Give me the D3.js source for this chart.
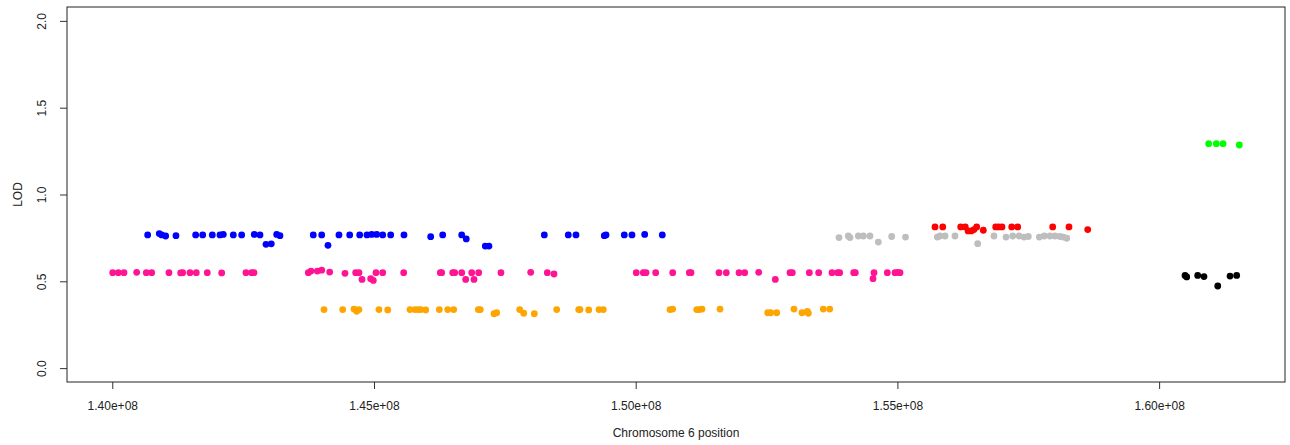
<!DOCTYPE html>
<html>
<head>
<meta charset="utf-8">
<script src="https://cdn.jsdelivr.net/npm/d3@7"></script>
<style>
  body { margin: 0; background: #fff; }
  svg { display: block; font-family: "Liberation Sans", Arial, sans-serif; }
</style>
</head>
<body>
<div id="graph"></div>
<script>
// positions in Mb on chromosome 6, LOD values
const bluePos = [140.676, 140.898, 140.944, 141.020, 141.217, 141.593, 141.727, 141.911, 142.058, 142.121,
  142.312, 142.472, 142.713, 142.822, 142.937, 143.038, 143.141, 143.204, 143.840, 144.001,
  144.121, 144.331, 144.536, 144.727, 144.866, 144.956, 145.052, 145.166, 145.319, 145.573,
  146.083, 146.313, 146.676, 146.763, 147.126, 147.197, 148.254, 148.712, 148.859, 149.400,
  149.433, 149.782, 149.929, 150.172, 150.508];
const blueLod = [0.767, 0.775, 0.767, 0.761, 0.763, 0.767, 0.767, 0.767, 0.767, 0.770,
  0.767, 0.767, 0.770, 0.767, 0.713, 0.716, 0.770, 0.763, 0.767, 0.767,
  0.707, 0.767, 0.767, 0.767, 0.767, 0.770, 0.770, 0.767, 0.767, 0.767,
  0.757, 0.767, 0.767, 0.744, 0.703, 0.703, 0.767, 0.767, 0.767, 0.763,
  0.767, 0.767, 0.767, 0.770, 0.767];

const pinkPos = [140.008, 140.115, 140.224, 140.466, 140.650, 140.753, 141.083, 141.307, 141.345, 141.485,
  141.605, 141.815, 142.090, 142.554, 142.663, 142.707, 143.745, 143.796, 143.917, 144.001,
  144.154, 144.446, 144.650, 144.713, 144.771, 144.937, 144.987, 145.038, 145.166, 145.567,
  146.267, 146.293, 146.504, 146.542, 146.676, 146.752, 146.867, 146.911, 147.000, 147.426,
  147.994, 148.311, 148.439, 150.011, 150.145, 150.197, 150.382, 150.707, 151.024, 151.057,
  151.591, 151.731, 151.974, 152.082, 152.350, 152.667, 152.948, 152.992, 153.317, 153.496,
  153.750, 153.859, 153.897, 154.165, 154.196, 154.534, 154.553, 154.807, 154.954, 155.006,
  155.050];
const pinkLod = [0.550, 0.550, 0.550, 0.552, 0.550, 0.550, 0.550, 0.548, 0.550, 0.550,
  0.550, 0.550, 0.548, 0.550, 0.550, 0.550, 0.550, 0.559, 0.559, 0.564,
  0.553, 0.546, 0.550, 0.550, 0.511, 0.515, 0.505, 0.550, 0.550, 0.550,
  0.550, 0.550, 0.550, 0.550, 0.550, 0.511, 0.550, 0.511, 0.550, 0.550,
  0.552, 0.550, 0.542, 0.550, 0.550, 0.550, 0.550, 0.550, 0.550, 0.550,
  0.550, 0.550, 0.550, 0.550, 0.552, 0.511, 0.550, 0.550, 0.550, 0.550,
  0.550, 0.550, 0.550, 0.550, 0.550, 0.515, 0.550, 0.550, 0.550, 0.552,
  0.550];

const orangePos = [144.045, 144.402, 144.618, 144.669, 144.713, 145.095, 145.262, 145.688, 145.783, 145.846,
  145.892, 145.988, 146.248, 146.408, 146.523, 146.993, 147.031, 147.293, 147.344, 147.784,
  147.860, 148.063, 148.491, 148.911, 148.936, 149.102, 149.299, 149.381, 150.655, 150.707,
  151.166, 151.215, 151.267, 151.611, 152.522, 152.579, 152.694, 153.024, 153.177, 153.279,
  153.298, 153.584, 153.707];
const orangeLod = [0.337, 0.337, 0.340, 0.327, 0.337, 0.337, 0.335, 0.337, 0.337, 0.337,
  0.337, 0.335, 0.337, 0.337, 0.337, 0.337, 0.337, 0.313, 0.319, 0.337,
  0.316, 0.313, 0.337, 0.337, 0.337, 0.335, 0.337, 0.337, 0.337, 0.340,
  0.337, 0.337, 0.340, 0.340, 0.319, 0.319, 0.319, 0.340, 0.319, 0.327,
  0.316, 0.340, 0.340];

const grayPos = [153.884, 154.062, 154.094, 154.253, 154.349, 154.476, 154.635, 154.891, 155.155, 155.762,
  155.814, 155.910, 156.100, 156.534, 156.845, 157.075, 157.203, 157.323, 157.419, 157.501,
  157.711, 157.806, 157.915, 158.011, 158.107, 158.170, 158.235];
const grayLod = [0.752, 0.761, 0.752, 0.761, 0.761, 0.761, 0.726, 0.758, 0.755, 0.755,
  0.761, 0.761, 0.761, 0.717, 0.761, 0.755, 0.761, 0.761, 0.755, 0.758,
  0.755, 0.761, 0.761, 0.761, 0.758, 0.755, 0.748];

const redPos = [155.718, 155.866, 156.209, 156.297, 156.350, 156.412, 156.463, 156.515, 156.641, 156.878,
  156.935, 156.998, 157.184, 157.298, 157.967, 158.278, 158.636];
const redLod = [0.813, 0.813, 0.813, 0.813, 0.790, 0.790, 0.798, 0.813, 0.794, 0.813,
  0.813, 0.813, 0.813, 0.813, 0.813, 0.813, 0.798];

const greenPos = [160.947, 161.093, 161.221, 161.532];
const greenLod = [1.293, 1.293, 1.293, 1.285];

const blackPos = [160.495, 160.527, 160.737, 160.857, 161.120, 161.355, 161.482];
const blackLod = [0.534, 0.525, 0.534, 0.527, 0.473, 0.530, 0.534];

const xTicks = [140, 145, 150, 155, 160];
const xTickLabels = ['1.40e+08', '1.45e+08', '1.50e+08', '1.55e+08', '1.60e+08'];
const yTicks = [0, 0.5, 1, 1.5, 2];
const yTickLabels = ['0.0', '0.5', '1.0', '1.5', '2.0'];

const series = [
  { pos: bluePos, lod: blueLod, color: '#0000ff' },
  { pos: pinkPos, lod: pinkLod, color: '#ff1493' },
  { pos: orangePos, lod: orangeLod, color: '#ffa500' },
  { pos: grayPos, lod: grayLod, color: '#bebebe' },
  { pos: redPos, lod: redLod, color: '#ff0000' },
  { pos: greenPos, lod: greenLod, color: '#00ff00' },
  { pos: blackPos, lod: blackLod, color: '#000000' }
];

const width = 1290, height = 445;
const margin = { top: 7, right: 5, bottom: 63, left: 67 };
const innerW = width - margin.left - margin.right;
const innerH = height - margin.top - margin.bottom;

const svg = d3.select('#graph').append('svg')
  .attr('width', width)
  .attr('height', height);

const plot = svg.append('g')
  .attr('transform', 'translate(' + margin.left + ',' + margin.top + ')');

const scaleX = d3.scaleLinear().domain([139.135, 162.405]).range([0, innerW]);
const scaleY = d3.scaleLinear().domain([-0.08, 2.08]).range([innerH, 0]);

// points
series.forEach(s => {
  plot.append('g').selectAll('circle')
    .data(s.pos.map((p, i) => ({ x: p, y: s.lod[i] })))
    .enter().append('circle')
      .attr('cx', d => scaleX(d.x))
      .attr('cy', d => scaleY(d.y))
      .attr('r', 3.4)
      .attr('fill', s.color);
});

// axes
const xAxis = plot.append('g')
  .attr('transform', 'translate(0,' + innerH + ')')
  .call(d3.axisBottom(scaleX).tickValues(xTicks).tickSize(7).tickPadding(12)
    .tickFormat((d, i) => xTickLabels[i]));

const yAxis = plot.append('g')
  .call(d3.axisLeft(scaleY).tickValues(yTicks).tickSize(7).tickPadding(0)
    .tickFormat((d, i) => yTickLabels[i]));

[xAxis, yAxis].forEach(a => {
  a.select('.domain').remove();
  a.selectAll('line').attr('stroke', '#333');
  a.selectAll('text').attr('font-size', 12).attr('fill', '#222')
    .style('font-family', '"Liberation Sans", Arial, sans-serif');
});

yAxis.selectAll('text')
  .attr('text-anchor', 'middle')
  .attr('dy', null)
  .attr('x', null)
  .attr('transform', 'translate(-21,0) rotate(-90)');

// frame
plot.append('rect')
  .attr('width', innerW)
  .attr('height', innerH)
  .attr('fill', 'none')
  .attr('stroke', '#222')
  .attr('stroke-width', 1);

svg.append('text')
  .attr('x', margin.left + innerW / 2)
  .attr('y', 437)
  .attr('text-anchor', 'middle')
  .attr('font-size', 12)
  .attr('fill', '#222')
  .text('Chromosome 6 position');

svg.append('text')
  .attr('transform', 'translate(22,' + (margin.top + innerH / 2) + ') rotate(-90)')
  .attr('text-anchor', 'middle')
  .attr('font-size', 12)
  .attr('fill', '#222')
  .text('LOD');
</script>
</body>
</html>
